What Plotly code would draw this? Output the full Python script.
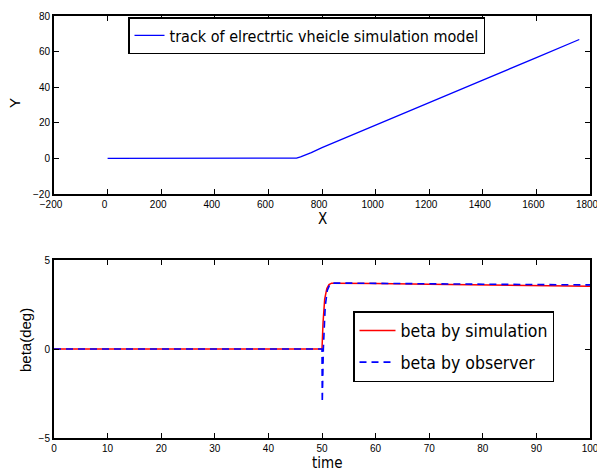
import plotly.graph_objects as go

# --- data ---
track_x = [0, 200, 400, 600, 690, 705, 720, 740, 760, 800, 1000, 1200, 1400, 1600, 1760]
track_y = [0, 0, 0, 0, 0, 0.2, 0.9, 2.0, 3.3, 6.0, 18.8, 31.5, 44.0, 56.6, 66.8]

t_sim = [0, 10, 20, 30, 40, 50, 50.2, 50.5, 50.9, 51.3, 51.8, 55, 60, 70, 80, 90, 100]
beta_sim = [0, 0, 0, 0, 0, 0, 1.5, 2.8, 3.4, 3.62, 3.7, 3.7, 3.68, 3.64, 3.6, 3.56, 3.52]

t_obs = [0, 10, 20, 30, 40, 50, 50.05, 50.25, 50.6, 51.0, 51.5, 52, 55, 60, 70, 80, 90, 100]
beta_obs = [0, 0, 0, 0, 0, 0, -3.0, 0, 2.4, 3.3, 3.65, 3.7, 3.7, 3.68, 3.66, 3.64, 3.62, 3.6]

top_xticks = [-200, 0, 200, 400, 600, 800, 1000, 1200, 1400, 1600, 1800]
top_yticks = [-20, 0, 20, 40, 60, 80]
bot_xticks = [0, 10, 20, 30, 40, 50, 60, 70, 80, 90, 100]
bot_yticks = [-5, 0, 5]

COND = "Liberation Sans Narrow, DejaVu Sans Condensed, Arial Narrow, Liberation Sans, sans-serif"
SANS = "Liberation Sans, Arial, sans-serif"

fig = go.Figure()
fig.add_trace(go.Scatter(x=track_x, y=track_y, mode="lines",
                         line=dict(color="#0000ff", width=1.3),
                         name="track of elrectrtic vheicle simulation model",
                         xaxis="x", yaxis="y", legend="legend"))
fig.add_trace(go.Scatter(x=t_sim, y=beta_sim, mode="lines",
                         line=dict(color="#ff0000", width=1.5),
                         name="beta by simulation", legendgroup="a",
                         xaxis="x2", yaxis="y2", legend="legend2"))
fig.add_trace(go.Scatter(x=t_obs, y=beta_obs, mode="lines",
                         line=dict(color="#0000ff", width=1.6, dash="7px,5px"),
                         name="beta by observer", legendgroup="b",
                         xaxis="x2", yaxis="y2", legend="legend2"))

ax_common = dict(showline=True, linecolor="black", linewidth=2, mirror="ticks",
                 ticks="inside", ticklen=5, tickwidth=1, tickcolor="black",
                 showgrid=False, zeroline=False, ticklabeloverflow="allow",
                 automargin=False,
                 tickfont=dict(family=SANS, size=10, color="black"))

top_dom = [(438 - 194) / 422, 1]
bot_dom = [0, (438 - 260) / 422]

fig.update_layout(
    width=597, height=473,
    margin=dict(l=54, r=7, t=16, b=35, autoexpand=False),
    paper_bgcolor="white", plot_bgcolor="white",
    xaxis=dict(domain=[0, 1], anchor="y", range=[-200, 1800], tickvals=top_xticks,
               ticklabelshift=-3, **ax_common),
    yaxis=dict(domain=top_dom, anchor="x", range=[-20, 80], tickvals=top_yticks, **ax_common),
    xaxis2=dict(domain=[0, 1], anchor="y2", range=[0, 100], tickvals=bot_xticks, **ax_common),
    yaxis2=dict(domain=bot_dom, anchor="x2", range=[-5, 5], tickvals=bot_yticks, **ax_common),
    legend=dict(x=(128 - 54) / 536, y=(438 - 17) / 422, xanchor="left", yanchor="top",
                bgcolor="white", bordercolor="black", borderwidth=1.5,
                font=dict(family=COND, size=16, color="black")),
    legend2=dict(x=(353 - 54) / 536, y=(438 - 311) / 422, xanchor="left", yanchor="top",
                 bgcolor="white", bordercolor="black", borderwidth=1.5,
                 tracegroupgap=6, itemwidth=36,
                 font=dict(family=COND, size=17.5, color="black")),
    showlegend=True,
)

ann = [
    dict(text="Y", x=(15 - 54) / 536, y=(438 - 103) / 422, textangle=-90,
         font=dict(family=SANS, size=15, color="black")),
    dict(text="X", x=(322 - 54) / 536, y=(438 - 219) / 422,
         font=dict(family=COND, size=15, color="black")),
    dict(text="beta(deg)", x=(25 - 54) / 536, y=(438 - 340) / 422, textangle=-90,
         font=dict(family=SANS, size=15, color="black")),
    dict(text="time", x=(327 - 54) / 536, y=(438 - 463) / 422,
         font=dict(family=COND, size=15, color="black")),
]
for a in ann:
    a.update(xref="paper", yref="paper", showarrow=False, xanchor="center", yanchor="middle")
fig.update_layout(annotations=ann)

fig.write_html("out.html")
